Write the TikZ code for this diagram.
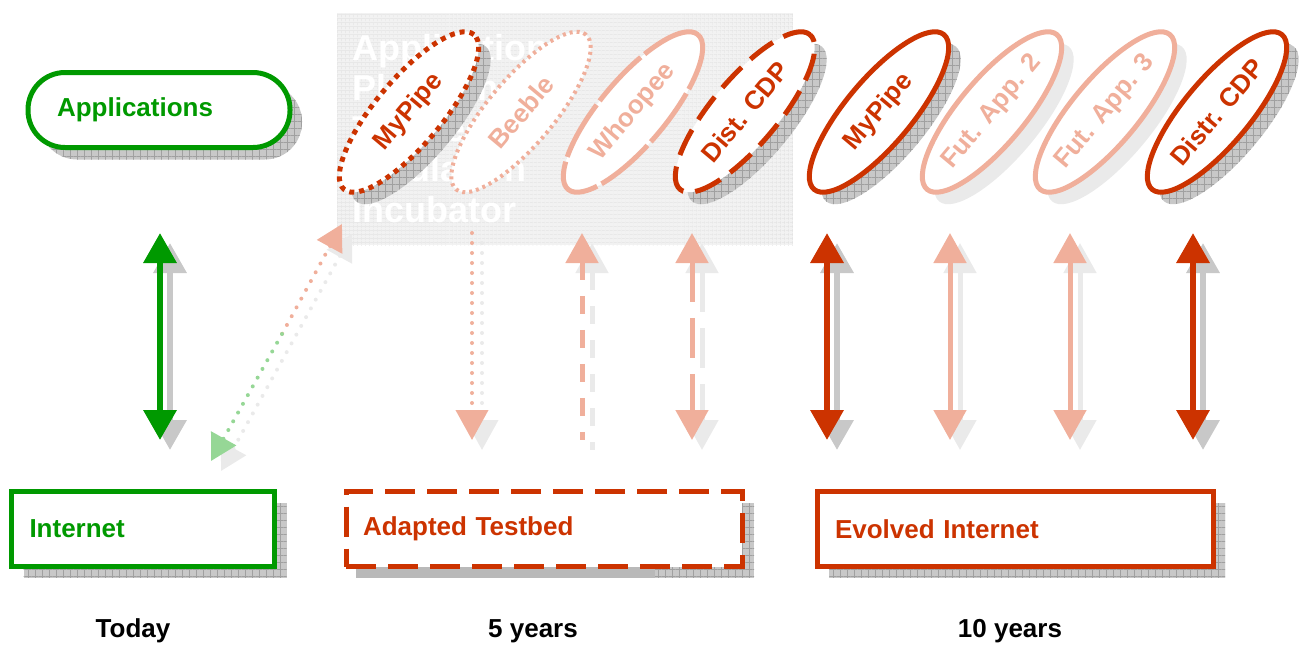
\documentclass[tikz,border=0pt]{standalone}
\usepackage{fontspec}
\setmainfont{Liberation Sans}
\usetikzlibrary{arrows.meta,patterns.meta,shapes.geometric}
\definecolor{grn}{RGB}{0,153,0}
\definecolor{rd}{RGB}{204,51,0}
\definecolor{shd}{RGB}{200,200,200}
\definecolor{shdline}{RGB}{160,160,160}
\definecolor{fadered}{RGB}{240,175,155}
\definecolor{fadegreen}{RGB}{150,215,150}
\definecolor{fadeshd}{RGB}{234,234,234}
\tikzset{
  x=1pt, y=-1pt,
  shadowfill/.style={fill=shd,
    postaction={pattern={Lines[angle=0,distance=7pt,line width=0.4pt]},pattern color=shdline},
    postaction={pattern={Lines[angle=90,distance=7pt,line width=0.4pt]},pattern color=shdline}},
  lightshadow/.style={fill=fadeshd},
  lbl/.style={font=\fontsize{26}{30}\selectfont\bfseries},
  boxnode/.style={rectangle, line width=5pt, minimum height=75pt, inner xsep=0pt,
    align=left, lbl},
  oval/.style={ellipse, minimum width=202pt, minimum height=66pt, inner sep=0pt,
    rotate=50, lbl, line width=5pt},
  ovalshadow/.style={ellipse, minimum width=202pt, minimum height=66pt, inner sep=0pt,
    rotate=50},
  dblarrow/.style={line width=6.5pt, {Triangle[width=32pt,length=30pt]}-{Triangle[width=32pt,length=30pt]}},
  uparrow/.style={line width=5pt, {Triangle[width=32pt,length=30pt]}-},
  downarrow/.style={line width=4pt, -{Triangle[width=32pt,length=30pt]}},
  period/.style={font=\fontsize{26}{30}\selectfont\bfseries, text=black}
}
\begin{document}
\begin{tikzpicture}
\useasboundingbox (0,0) rectangle (1300,646);

% ---------- light background panel ----------
\path[fill=gray!10,
  postaction={pattern={Lines[angle=0,distance=4pt,line width=0.6pt]},pattern color=gray!22},
  postaction={pattern={Lines[angle=90,distance=4pt,line width=0.6pt]},pattern color=gray!22}]
  (337,13) rectangle (793,245);
\node[anchor=north west, inner sep=0pt, align=left, text=white,
  font=\fontsize{36}{40.5}\selectfont\bfseries] (paneltext) at (352,34)
  {Application\\Platform\\Testbed\\Emulation\\Incubator};

% ---------- shadows ----------
\node[rectangle, rounded corners=37pt, minimum width=262pt, minimum height=75pt, shadowfill] (appsS) at (171,122) {};
\node[rectangle, minimum width=263pt, minimum height=75pt, shadowfill] (netS) at (155,540) {};
\node[rectangle, minimum width=396pt, minimum height=75pt, shadowfill] (adaptS) at (556,540) {};
\fill[gray!55] (356,566) rectangle (655,578);
\node[rectangle, minimum width=396pt, minimum height=75pt, shadowfill] (evolS) at (1027,540) {};

\node[ovalshadow, shadowfill] (s5a) at (421,124) {};
\node[ovalshadow, shadowfill] (s5d) at (757,124) {};
\node[ovalshadow, shadowfill] (s10a) at (891,124) {};
\node[ovalshadow, lightshadow] (s10b) at (1004,124) {};
\node[ovalshadow, lightshadow] (s10c) at (1117,124) {};
\node[ovalshadow, shadowfill] (s10d) at (1229,124) {};

% ---------- top row ----------
\node[boxnode, rounded corners=37pt, draw=grn, fill=white, text=grn,
  minimum width=262pt, text width=204pt] (apps) at (159,110) {Applications};

\node[oval, draw=rd, fill=white, text=rd, dash pattern=on 5pt off 5pt] (p5a) at (409,112) {MyPipe};
\node[oval, draw=fadered, fill=white, text=fadered, line width=4pt, dash pattern=on 3pt off 4pt] (p5b) at (521,112) {Beeble};
\node[oval, draw=fadered, fill=white, text=fadered, dash pattern=on 60pt off 5pt] (p5c) at (633,112) {Whoopee};
\node[oval, draw=rd, fill=white, text=rd, dash pattern=on 28pt off 12pt] (p5d) at (745,112) {Dist. CDP};

\node[oval, draw=rd, fill=white, text=rd] (p10a) at (879,112) {MyPipe};
\node[oval, draw=fadered, fill=white, text=fadered] (p10b) at (992,112) {Fut. App. 2};
\node[oval, draw=fadered, fill=white, text=fadered] (p10c) at (1105,112) {Fut. App. 3};
\node[oval, draw=rd, fill=white, text=rd] (p10d) at (1217,112) {Distr. CDP};

% ---------- bottom row ----------
\node[boxnode, draw=grn, fill=white, text=grn, minimum width=263pt, text width=227pt] (net) at (143,529) {Internet};
\node[boxnode, draw=rd, fill=white, text=rd, minimum width=396pt, text width=362pt,
  dash pattern=on 30pt off 12pt] (adapt) at (544,529) {Adapted Testbed};
\node[boxnode, draw=rd, fill=white, text=rd, minimum width=396pt, text width=360pt] (evol) at (1015,529) {Evolved Internet};

% ---------- arrow end points ----------
\foreach \n/\x in {t/160, b5/472, c5/582, d5/692, a10/827, b10/950, c10/1070, d10/1193}{
  \coordinate (\n top) at (\x,233);
  \coordinate (\n bot) at (\x,440);
  \coordinate (\n topS) at (\x+10,243);
  \coordinate (\n botS) at (\x+10,450);
}
\coordinate (diagTop) at (342,224);
\coordinate (diagMid) at (282,334);
\coordinate (diagBot) at (211,461);
\coordinate (diagTopS) at (352,234);
\coordinate (diagBotS) at (221,471);

% ---------- arrow shadows ----------
\draw[dblarrow, shd] (ttopS) -- (tbotS);
\draw[dblarrow, shd] (a10topS) -- (a10botS);
\draw[dblarrow, shd] (d10topS) -- (d10botS);
\draw[dblarrow, fadeshd, line width=5pt] (b10topS) -- (b10botS);
\draw[dblarrow, fadeshd, line width=5pt] (c10topS) -- (c10botS);
\draw[dblarrow, fadeshd, line width=5pt, dash pattern=on 40pt off 16pt] (d5topS) -- (d5botS);
\draw[uparrow, fadeshd, dash pattern=on 18pt off 16pt] (c5topS) -- (c5botS);
\draw[downarrow, fadeshd, line cap=round, dash pattern=on 0pt off 10pt] (b5topS) -- (b5botS);
\draw[fadeshd, line width=4pt, line cap=round, dash pattern=on 0pt off 10pt,
  {Triangle[width=28pt,length=26pt]}-{Triangle[width=28pt,length=26pt]}] (diagTopS) -- (diagBotS);

% ---------- arrows ----------
\draw[dblarrow, grn] (ttop) -- (tbot);
\draw[dblarrow, rd] (a10top) -- (a10bot);
\draw[dblarrow, rd] (d10top) -- (d10bot);
\draw[dblarrow, fadered, line width=5pt] (b10top) -- (b10bot);
\draw[dblarrow, fadered, line width=5pt] (c10top) -- (c10bot);
\draw[dblarrow, fadered, line width=5pt, dash pattern=on 40pt off 16pt] (d5top) -- (d5bot);
\draw[uparrow, fadered, dash pattern=on 18pt off 16pt] (c5top) -- (c5bot);
\draw[downarrow, fadered, line cap=round, dash pattern=on 0pt off 10pt] (b5top) -- (b5bot);
\draw[fadered, line width=4pt, line cap=round, dash pattern=on 0pt off 10pt,
  {Triangle[width=28pt,length=26pt]}-] (diagTop) -- (diagMid);
\draw[fadegreen, line width=4pt, line cap=round, dash pattern=on 0pt off 10pt,
  -{Triangle[width=28pt,length=26pt]}] (diagMid) -- (diagBot);

% ---------- time line ----------
\node[period] (today) at (133,631) {Today};
\node[period] (five) at (533,631) {5 years};
\node[period] (ten) at (1010,631) {10 years};
\end{tikzpicture}
\end{document}
